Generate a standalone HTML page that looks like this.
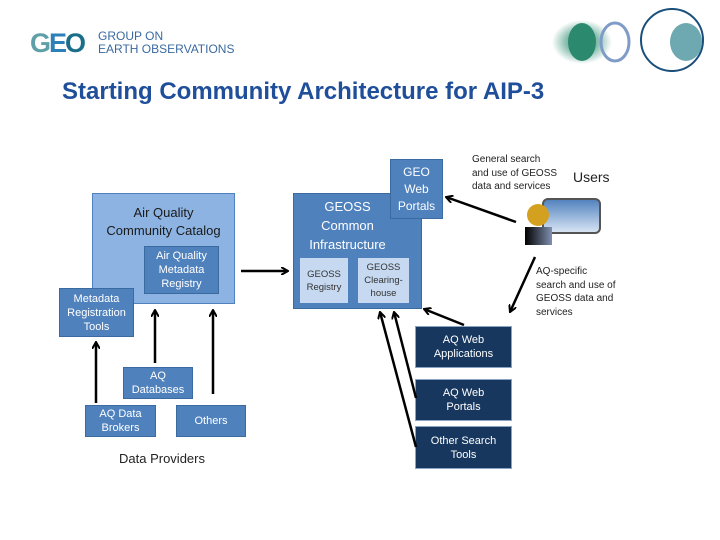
<!DOCTYPE html>
<html><head><style>
body{margin:0;width:720px;height:540px;background:#fff;position:relative;overflow:hidden;font-family:"Liberation Sans",sans-serif}
.b{position:absolute;box-sizing:border-box;display:flex;align-items:center;justify-content:center;text-align:center;color:#fff;font-size:11px;line-height:14px}
.l{background:#8db3e2;border:1px solid #4f81bd;color:#1a1a1a}
.m{background:#4f81bd;border:1px solid #3a6aa0}
.d{background:#17375e;border:1px solid #8ca4c4}
.p{background:#c6d9f1;border:1px solid #4f81bd;color:#333;font-size:9.5px;line-height:13px}
.t{position:absolute;font-size:10px;line-height:13.5px;color:#222}
</style></head><body>
<div style="position:absolute;left:30px;top:28px;font-size:27px;font-weight:bold;color:#5fa0a8;letter-spacing:-2px">G<span style="color:#2d7fb8">E</span><span style="color:#1a6e8a">O</span></div>
<div class="t" style="left:98px;top:30px;font-size:12px;line-height:13px;color:#3a6aa0">GROUP ON<br>EARTH OBSERVATIONS</div>
<svg style="position:absolute;left:540px;top:8px" width="170" height="70">
<defs><radialGradient id="g1"><stop offset="0" stop-color="#fff"/><stop offset=".5" stop-color="#2a8a70"/><stop offset="1" stop-color="#2a8a70" stop-opacity="0"/></radialGradient></defs>
<ellipse cx="42" cy="34" rx="30" ry="22" fill="url(#g1)" opacity=".6"/>
<ellipse cx="42" cy="34" rx="14" ry="19" fill="#2b8a6e"/>
<ellipse cx="75" cy="34" rx="14" ry="19" fill="none" stroke="#7f9cc8" stroke-width="3"/>
<ellipse cx="132" cy="32" rx="31" ry="31" fill="none" stroke="#1a4f7a" stroke-width="2"/>
<ellipse cx="146" cy="34" rx="16" ry="19" fill="#6ea8b0"/>
</svg>
<div style="position:absolute;left:62px;top:78px;font-size:24px;font-weight:bold;color:#1f4e9a">Starting Community Architecture for AIP-3</div>

<div class="b l" style="left:92px;top:193px;width:143px;height:111px;align-items:flex-start;padding-top:10px;font-size:13px;line-height:18px">Air Quality<br>Community Catalog</div>
<div class="b m" style="left:144px;top:246px;width:75px;height:48px">Air Quality<br>Metadata<br>Registry</div>
<div class="b m" style="left:59px;top:288px;width:75px;height:49px">Metadata<br>Registration<br>Tools</div>
<div class="b m" style="left:123px;top:367px;width:70px;height:32px">AQ<br>Databases</div>
<div class="b m" style="left:85px;top:405px;width:71px;height:32px">AQ Data<br>Brokers</div>
<div class="b m" style="left:176px;top:405px;width:70px;height:32px">Others</div>
<div class="t" style="left:119px;top:452px;font-size:13px">Data Providers</div>

<div class="b m" style="left:293px;top:193px;width:129px;height:116px;align-items:flex-start;padding-top:3px;padding-right:30px;font-size:13px;line-height:19px;padding-left:10px">GEOSS<br>Common<br>Infrastructure</div>
<div class="b p" style="left:299px;top:257px;width:50px;height:47px">GEOSS<br>Registry</div>
<div class="b p" style="left:357px;top:257px;width:53px;height:47px">GEOSS<br>Clearing-<br>house</div>
<div class="b m" style="left:390px;top:159px;width:53px;height:60px;font-size:12px;line-height:17px">GEO<br>Web<br>Portals</div>

<div class="b d" style="left:415px;top:326px;width:97px;height:42px">AQ Web<br>Applications</div>
<div class="b d" style="left:415px;top:379px;width:97px;height:42px">AQ Web<br>Portals</div>
<div class="b d" style="left:415px;top:426px;width:97px;height:43px">Other Search<br>Tools</div>

<div class="t" style="left:472px;top:153px;white-space:nowrap">General search<br>and use of GEOSS<br>data and services</div>
<div class="t" style="left:573px;top:171px;font-size:14px">Users</div>
<div class="t" style="left:536px;top:265px;white-space:nowrap">AQ-specific<br>search and use of<br>GEOSS data and<br>services</div>

<svg style="position:absolute;left:0;top:0" width="720" height="540">
<defs><linearGradient id="sc" x1="0" y1="0" x2="0" y2="1"><stop offset="0" stop-color="#4f81bd"/><stop offset="1" stop-color="#dbe7f5"/></linearGradient>
<linearGradient id="bd" x1="0" x2="1"><stop offset="0" stop-color="#000"/><stop offset="1" stop-color="#8090b0"/></linearGradient>
<marker id="a" markerWidth="8" markerHeight="8" refX="7" refY="4" orient="auto" markerUnits="userSpaceOnUse"><path d="M0,0 L7,4 L0,8" fill="none" stroke="#000" stroke-width="2"/></marker></defs>
<rect x="543" y="199" width="57" height="34" rx="5" fill="url(#sc)" stroke="#555" stroke-width="2"/>
<rect x="525" y="227" width="27" height="18" fill="url(#bd)"/>
<circle cx="538" cy="215" r="11" fill="#d4a020"/>
<g stroke="#000" stroke-width="2.5" fill="none" marker-end="url(#a)">
<line x1="241" y1="271" x2="288" y2="271"/>
<line x1="96" y1="403" x2="96" y2="342"/>
<line x1="155" y1="363" x2="155" y2="310"/>
<line x1="213" y1="394" x2="213" y2="310"/>
<line x1="516" y1="222" x2="446" y2="197"/>
<line x1="535" y1="257" x2="510" y2="312"/>
<line x1="464" y1="325" x2="424" y2="309"/>
<line x1="416" y1="398" x2="394" y2="312"/>
<line x1="416" y1="447" x2="380" y2="312"/>
</g>
</svg>
</body></html>
